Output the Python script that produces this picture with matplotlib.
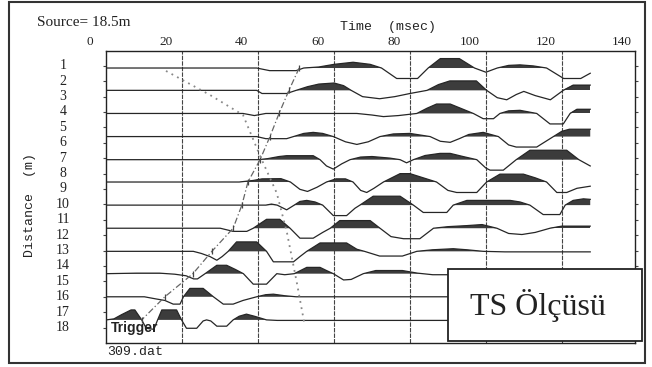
import matplotlib
matplotlib.use('Agg')
import matplotlib.pyplot as plt
import matplotlib.transforms as mtrans
from matplotlib.patches import Rectangle
import numpy as np

# ============================================================
# data (time in msec, amplitude normalised, clip = 1)
# ============================================================
time_ticks = [0, 20, 40, 60, 80, 100, 120, 140]
distance_labels = list(range(1, 19))
trace_dist = [1.15, 2.6, 4.1, 5.6, 7.1, 8.55, 10.05, 11.55, 13.05, 14.5, 16.0, 17.5]

tr01_t = [0, 39.6, 43, 50, 52, 56, 60, 65, 69.5, 72.5, 76.5, 82, 84.8, 88, 93, 97, 100, 103, 106, 109, 112.5, 116, 120.5, 125, 127.5]
tr01_a = [0, 0, -0.25, -0.25, 0, 0.1, 0.35, 0.55, 0.35, 0, -1, -1, 0, 0.9, 0.9, 0, -0.4, 0, 0.25, 0.3, 0.2, 0, -1, -1, -0.5]

tr02_t = [0, 39.6, 41, 47.5, 50, 53, 56, 60, 62.5, 64.5, 67.5, 72, 76, 80, 84.5, 87.5, 90.5, 97.5, 100.2, 103, 105.5, 108, 110, 113, 117, 120.4, 123, 127.5]
tr02_a = [0, 0, -0.3, -0.3, 0, 0.35, 0.6, 0.7, 0.45, 0, -0.6, -0.8, -0.6, -0.3, 0, 0.55, 0.9, 0.9, 0, -0.7, -0.9, -0.4, -0.1, -0.5, -0.9, 0, 0.5, 0.5]

tr03_t = [0, 36, 39, 42, 66, 70, 73, 77, 81.8, 84.5, 87, 90.6, 94, 96.7, 99.3, 102, 103.7, 106, 109, 113.4, 116.9, 120.4, 122.2, 124, 127.5]
tr03_a = [0, 0, -0.2, 0, 0, -0.15, -0.3, -0.2, 0, 0.5, 0.9, 0.9, 0.4, 0, -0.5, -0.5, 0, 0.25, 0.3, 0, -1, -1, 0, 0.4, 0.4]

tr04_t = [0, 39.6, 42, 47.5, 49.3, 52, 54.5, 57, 59.8, 63, 66, 69, 72.1, 75.6, 80, 85.3, 88, 90.6, 93, 95.5, 99.3, 103.3, 106, 108, 113.4, 117.8, 120, 122, 127.5]
tr04_a = [0, 0, -0.2, -0.2, 0, 0.3, 0.4, 0.3, 0, -0.5, -0.75, -0.5, 0, 0.25, 0.3, 0, -0.45, -0.55, -0.2, 0.2, 0.4, 0, -0.8, -1, -1, 0, 0.5, 0.7, 0.7]

tr05_t = [0, 40, 42.5, 45.5, 47.5, 54.5, 56.3, 58, 59.8, 62, 64.2, 67, 70, 74.7, 77.4, 79.1, 80.9, 84, 87.9, 90.6, 94, 97.6, 100, 101.1, 104.6, 108, 111.6, 121.3, 124.5, 127.5]
tr05_a = [0, 0, 0.1, 0.3, 0.38, 0.38, 0, -0.6, -0.9, -0.4, 0, 0.25, 0.3, 0.15, 0, -0.3, 0, 0.4, 0.6, 0.6, 0.3, 0, -0.8, -1, -1, 0, 0.9, 0.9, 0, -0.6]

tr06_t = [0, 35, 38.7, 41, 46, 48.5, 51, 53, 55.5, 58, 60.5, 63, 65, 67, 68.6, 70.5, 73, 77.4, 80, 83.5, 87, 90, 92.3, 97.6, 100.2, 103.7, 109.9, 113, 116, 118.7, 121.3, 124, 127.5]
tr06_a = [0, 0, 0.15, 0.3, 0.32, 0, -0.7, -0.9, -0.5, 0, 0.3, 0.3, 0, -0.8, -1, -0.6, 0, 0.8, 0.8, 0.4, 0, -0.8, -1, -1, 0, 0.75, 0.75, 0.4, 0, -1, -1, -0.6, -0.4]

tr07_t = [0, 42, 43.5, 45, 47.5, 49.5, 51, 52.8, 55, 57, 59.8, 63.3, 65.5, 66.8, 70.3, 77.4, 80.9, 83.5, 89.7, 91.4, 95, 106.4, 109, 111.6, 115.1, 119.5, 120.9, 123, 125.7, 127.5]
tr07_a = [0, 0, 0.1, 0, -0.45, 0, 0.35, 0.45, 0.3, 0, -1, -1, -0.3, 0, 0.85, 0.85, 0, -0.7, -0.7, 0, 0.45, 0.45, 0.3, 0, -0.9, -0.9, 0, 0.45, 0.6, 0.55]

tr08_t = [0, 30, 33.4, 37, 38.7, 42.2, 45.7, 48.4, 51, 54.5, 57, 59, 61.5, 69.5, 72.1, 75, 78.3, 82.6, 86.2, 90, 95, 99, 102.9, 106, 109.5, 113, 116.9, 120, 127.5]
tr08_a = [0, 0, -0.3, -0.3, 0, 0.85, 0.85, 0, -0.95, -0.95, -0.4, 0, 0.73, 0.73, 0, -0.8, -1, -1, 0, 0.15, 0.25, 0.35, 0, -0.5, -0.6, -0.4, 0, 0.2, 0.2]

tr09_t = [0, 22.9, 25, 27.3, 29.1, 30.5, 32.1, 34.3, 39.6, 42.2, 44, 49.3, 51, 52.8, 56.3, 63.3, 66, 68, 72, 78, 81.8, 86, 91.4, 95, 99.3, 105, 127.5]
tr09_a = [0, 0, -0.2, -0.5, -0.85, -0.5, 0, 0.9, 0.9, 0, -1, -1, -0.5, 0, 0.8, 0.8, 0.2, 0, -0.45, -0.45, 0, 0.15, 0.25, 0.15, 0, -0.05, -0.05]

tr10_t = [0, 8, 14, 18, 21, 23, 24, 26, 29.1, 31.7, 34, 36.1, 38.7, 42.2, 44.9, 47, 49.5, 52.8, 56.3, 58, 59.8, 62.5, 64.5, 67.7, 71, 78, 82, 86, 127.5]
tr10_a = [0, 0.05, 0.05, -0.05, -0.2, -0.5, -0.5, 0, 0.8, 0.8, 0.4, 0, -1, -1, 0, -0.1, 0, 0.6, 0.6, 0.3, 0, -0.6, -0.55, 0, 0.3, 0.3, 0.05, -0.1, -0.1]

tr11_t = [0, 10, 13, 15.4, 17.6, 19.4, 20.3, 22, 25.5, 28.2, 30.8, 33.4, 36, 39.6, 42, 44, 47, 50, 127.5]
tr11_a = [0, 0, -0.2, -0.35, -0.7, -0.7, 0, 0.8, 0.8, 0, -0.7, -0.7, -0.35, 0, 0.2, 0.25, 0.1, 0, 0]

tr12_t = [0, 2, 4, 6.5, 7.5, 9.3, 10.5, 12.5, 13.5, 14.6, 18.5, 19.8, 21.1, 23.8, 25.5, 26.4, 27.5, 29.1, 31.7, 33.4, 35, 36.9, 39, 42.2, 45, 127.5]
tr12_a = [0, 0.1, 0.5, 0.95, 0.95, 0, -0.8, -0.9, 0, 0.95, 0.95, 0, -0.8, -0.8, -0.1, 0, -0.1, -0.6, -0.6, 0, 0.35, 0.55, 0.35, 0, -0.05, -0.05]

# first-arrival picks (dash-dot) and the second dotted line
pick_t = [50.8, 48.1, 45.5, 43.1, 40.5, 37.3, 35.7, 33.4, 27.8, 22.8, 15.4, 9.3]
dot_t = [15.7, 27.3, 36.0, 40.5, 44.9, 47.6, 50.2, 52.1]
dot_d = [1.34, 2.90, 4.20, 6.86, 9.27, 11.86, 15.11, 17.64]

traces = [(tr01_t, tr01_a), (tr02_t, tr02_a), (tr03_t, tr03_a), (tr04_t, tr04_a),
          (tr05_t, tr05_a), (tr06_t, tr06_a), (tr07_t, tr07_a), (tr08_t, tr08_a),
          (tr09_t, tr09_a), (tr10_t, tr10_a), (tr11_t, tr11_a), (tr12_t, tr12_a)]

# ============================================================
# figure
# ============================================================
W, H = 652, 367
GAIN = 0.68
LINE = '#262626'
FILL = '#3c3c3c'

fig = plt.figure(figsize=(W / 100, H / 100), dpi=100)
ax = fig.add_axes([106.4 / W, 1 - 343 / H, (635 - 106.4) / W, (343 - 51.3) / H])
ax.set_xlim(0, 139.3)
ax.set_ylim(19.0, 0.065)

for t in time_ticks[1:-1]:
    ax.axvline(t, color='#444444', lw=0.8, ls=(0, (4, 1)), zorder=1)

for (t, a), pos in zip(traces, trace_dist):
    t = np.array(t)
    y = pos - GAIN * np.array(a)
    ax.fill_between(t, pos, y, where=y < pos, interpolate=True, color=FILL, lw=0, zorder=2)
    ax.plot(t, y, color=LINE, lw=0.9, zorder=3)

ax.plot(pick_t, trace_dist, color='#666666', lw=0.9, ls=(0, (5, 2, 1, 2)), zorder=4)
ax.plot(pick_t, trace_dist, ls='none', marker='|', ms=5, mew=0.9, color='#444444', zorder=4)
ax.plot(dot_t, dot_d, color='#888888', lw=1.3, ls=(0, (1, 2.5)), zorder=4)

for s in ax.spines.values():
    s.set_linewidth(1.0)
    s.set_color('#222222')
ax.set_xticks([])
ax.set_yticks(distance_labels)
ax.tick_params(axis='y', length=2, width=0.8, direction='out', labelleft=False,
               right=True, color='#444444')

# row labels and shifted time labels
tr_y = mtrans.blended_transform_factory(fig.transFigure, ax.transData)
for lab in distance_labels:
    ax.text(63 / W, lab, str(lab), transform=tr_y, ha='center', va='center',
            fontsize=10, family='Liberation Serif', color='#222222')

tr_x = mtrans.blended_transform_factory(ax.transData, fig.transFigure)
for tk in time_ticks:
    ax.text(tk - 4.3, 1 - 42 / H, str(tk), transform=tr_x, ha='center', va='center',
            fontsize=9.5, family='Liberation Serif', color='#222222')

fig.text(37 / W, 1 - 23 / H, 'Source= 18.5m', ha='left', va='center',
         fontsize=11, family='Liberation Serif', color='#222222')
fig.text(388 / W, 1 - 27 / H, 'Time  (msec)', ha='center', va='center',
         fontsize=9.5, family='Liberation Mono', color='#222222')
fig.text(30 / W, 1 - 205 / H, 'Distance  (m)', rotation=90, ha='center', va='center',
         fontsize=9.5, family='Liberation Mono', color='#222222')
fig.text(107 / W, 1 - 352 / H, '309.dat', ha='left', va='center',
         fontsize=9.5, family='Liberation Mono', color='#222222')
fig.text(111 / W, 1 - 328 / H, 'Trigger', ha='left', va='center',
         fontsize=10, family='Liberation Sans', fontweight='bold', color='#222222')

# outer frame
fig.add_artist(Rectangle((9 / W, 4 / H), (645 - 9) / W, (363 - 2) / H,
                         transform=fig.transFigure, fill=False, lw=1.5, ec='#333333'))

# label box
fig.add_artist(Rectangle((448 / W, 1 - 341 / H), 194 / W, 72 / H, transform=fig.transFigure,
                         fc='white', ec='#222222', lw=1.3, zorder=5))
fig.text(538 / W, 1 - 305 / H, 'TS Ölçüsü', ha='center', va='center', fontsize=23,
         family='Liberation Serif', color='#222222', zorder=6)

fig.savefig('out.png', dpi=100, facecolor='white')
